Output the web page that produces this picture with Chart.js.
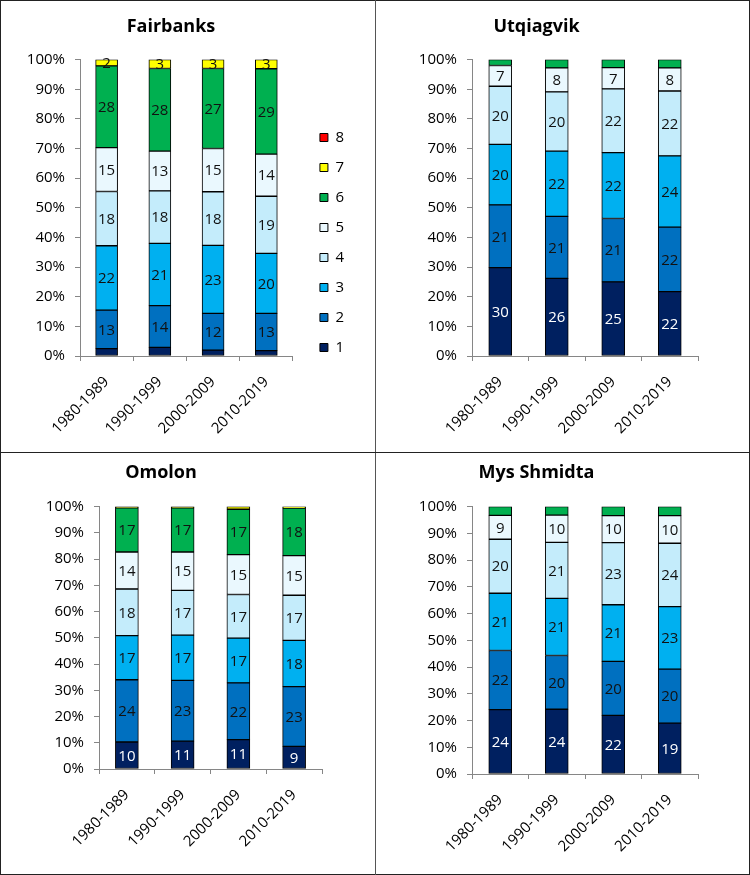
<!DOCTYPE html>
<html>
<head>
<meta charset="utf-8">
<title>Classes by decade</title>
<script src="https://cdn.jsdelivr.net/npm/chart.js@4.4.1/dist/chart.umd.min.js"></script>
<style>
  html, body { margin: 0; padding: 0; background: #fff; }
  #sheet { position: relative; width: 750px; height: 875px; }
  #sheet canvas { position: absolute; }
  .line { position: absolute; background: #222; pointer-events: none; }
</style>
</head>
<body>
<div id="sheet">
  <canvas id="fairbanks" width="375" height="452" style="left:0;top:0"></canvas>
  <canvas id="utqiagvik" width="375" height="452" style="left:375px;top:0"></canvas>
  <canvas id="omolon" width="375" height="423" style="left:0;top:452px"></canvas>
  <canvas id="shmidta" width="375" height="423" style="left:375px;top:452px"></canvas>
  <div class="line" style="left:0;top:0;width:750px;height:1px"></div>
  <div class="line" style="left:0;top:874px;width:750px;height:1px"></div>
  <div class="line" style="left:0;top:0;width:1px;height:875px"></div>
  <div class="line" style="left:749px;top:0;width:1px;height:875px"></div>
  <div class="line" style="left:375px;top:0;width:1px;height:875px;background:#555"></div>
  <div class="line" style="left:0;top:452px;width:750px;height:1px"></div>
</div>
<script>
// share of each class (%) per decade, class 1 first
const periods = ['1980-1989', '1990-1999', '2000-2009', '2010-2019'];
const classNames = ['1', '2', '3', '4', '5', '6', '7', '8'];

const fairbanks = [
  [2.5, 2.9, 2.0, 1.8],
  [13.0, 14.1, 12.4, 12.6],
  [21.7, 21.0, 22.9, 20.2],
  [18.3, 17.7, 18.1, 19.3],
  [14.8, 13.4, 14.6, 14.2],
  [27.6, 27.9, 27.0, 28.8],
  [2.1, 3.0, 3.0, 3.1],
  [0, 0, 0, 0]
];
const utqiagvik = [
  [29.8, 26.2, 25.0, 21.7],
  [21.2, 20.9, 21.4, 21.8],
  [20.4, 22.0, 22.2, 24.0],
  [19.6, 20.0, 21.5, 21.9],
  [7.0, 8.1, 7.2, 7.8],
  [2.0, 2.8, 2.7, 2.8],
  [0, 0, 0, 0],
  [0, 0, 0, 0]
];
const omolon = [
  [10.3, 10.6, 11.2, 8.6],
  [23.7, 23.2, 21.6, 22.8],
  [16.8, 17.2, 17.1, 17.6],
  [17.8, 17.1, 16.6, 17.2],
  [14.1, 14.6, 15.2, 15.1],
  [16.8, 16.8, 17.3, 18.1],
  [0.5, 0.5, 1.0, 0.6],
  [0, 0, 0, 0]
];
const shmidta = [
  [24.1, 24.2, 21.9, 19.0],
  [22.1, 20.1, 20.2, 20.2],
  [21.4, 21.4, 21.2, 23.4],
  [20.2, 20.9, 23.2, 23.7],
  [8.9, 10.2, 10.1, 10.3],
  [3.3, 3.2, 3.4, 3.4],
  [0, 0, 0, 0],
  [0, 0, 0, 0]
];
const yTicks = [0, 10, 20, 30, 40, 50, 60, 70, 80, 90, 100];

const classColors = ['#002060', '#0070c0', '#00b0f0', '#c4ecfb', '#eaf8fe', '#00b050', '#ffff00', '#ff0000'];

Chart.defaults.font.family = '"Open Sans", sans-serif';
Chart.defaults.color = '#000';

// numbers written in the middle of each segment
const segmentLabels = {
  id: 'segmentLabels',
  afterDatasetsDraw(chart, args, opts) {
    const ctx = chart.ctx;
    ctx.save();
    ctx.font = '15px "Open Sans", sans-serif';
    ctx.textAlign = 'center';
    ctx.textBaseline = 'middle';
    (opts.datasets || []).forEach(di => {
      chart.getDatasetMeta(di).data.forEach((bar, j) => {
        ctx.fillStyle = di === 0 ? '#fff' : '#111';
        ctx.fillText(Math.round(chart.data.datasets[di].data[j]), bar.x, (bar.y + bar.base) / 2 + 1);
      });
    });
    ctx.restore();
  }
};

// nudge the legend box to where the reference has it
const legendShift = {
  id: 'legendShift',
  afterLayout(chart, args, opts) {
    const lg = chart.legend;
    if (!lg || !lg.options.display) return;
    lg.left += opts.dx || 0; lg.right += opts.dx || 0;
    lg.top += opts.dy || 0; lg.bottom += opts.dy || 0;
  }
};

function makeChart(id, title, shares, cfg) {
  const datasets = classNames.map((name, i) => ({
    label: name,
    data: shares[i],
    backgroundColor: classColors[i],
    borderColor: '#000',
    borderWidth: 1,
    borderSkipped: false,
    barThickness: cfg.barWidth
  }));

  return new Chart(document.getElementById(id), {
    type: 'bar',
    data: { labels: periods, datasets },
    plugins: [segmentLabels, legendShift],
    options: {
      responsive: false,
      animation: false,
      layout: { padding: { left: 0, right: cfg.padRight, top: 0, bottom: 0 } },
      scales: {
        x: {
          stacked: true,
          grid: { drawOnChartArea: false, color: '#868686', tickLength: 5 },
          border: { color: '#868686' },
          ticks: { minRotation: 45, maxRotation: 45, padding: 12, font: { size: 15 }, color: '#000' },
          afterFit: s => { s.height = cfg.xHeight; }
        },
        y: {
          stacked: true,
          min: 0,
          max: 100,
          afterBuildTicks: s => { s.ticks = yTicks.map(v => ({ value: v })); },
          grid: { drawOnChartArea: false, color: '#868686', tickLength: 5 },
          border: { color: '#868686' },
          ticks: { padding: 10, font: { size: 15 }, color: '#000', callback: v => v + '%' },
          afterFit: s => { s.width = cfg.yWidth; }
        }
      },
      plugins: {
        title: {
          display: true,
          text: title,
          color: '#000',
          font: { size: 18, weight: 'bold' },
          padding: { top: cfg.titleTop, bottom: cfg.titleBottom }
        },
        legend: {
          display: !!cfg.legend,
          position: 'right',
          fullSize: false,
          align: 'end',
          reverse: true,
          labels: { boxWidth: 8, boxHeight: 8, padding: 15, font: { size: 15 }, color: '#000', textAlign: 'left' }
        },
        tooltip: { enabled: false },
        segmentLabels: { datasets: cfg.labelled },
        legendShift: { dx: 12, dy: 14 }
      }
    }
  });
}

makeChart('fairbanks', 'Fairbanks', fairbanks, {
  barWidth: 22, padRight: 33, xHeight: 96, yWidth: 80, titleTop: 16, titleBottom: 22,
  legend: true, labelled: [1, 2, 3, 4, 5, 6]
});
makeChart('utqiagvik', 'Utqiagvik', utqiagvik, {
  barWidth: 23, padRight: 52, xHeight: 96, yWidth: 97, titleTop: 16, titleBottom: 22,
  labelled: [0, 1, 2, 3, 4]
});
makeChart('omolon', 'Omolon', omolon, {
  barWidth: 23, padRight: 53, xHeight: 106, yWidth: 99, titleTop: 10, titleBottom: 23,
  labelled: [0, 1, 2, 3, 4, 5]
});
makeChart('shmidta', 'Mys Shmidta', shmidta, {
  barWidth: 23, padRight: 52, xHeight: 101, yWidth: 97, titleTop: 10, titleBottom: 23,
  labelled: [0, 1, 2, 3, 4]
});
</script>
</body>
</html>
